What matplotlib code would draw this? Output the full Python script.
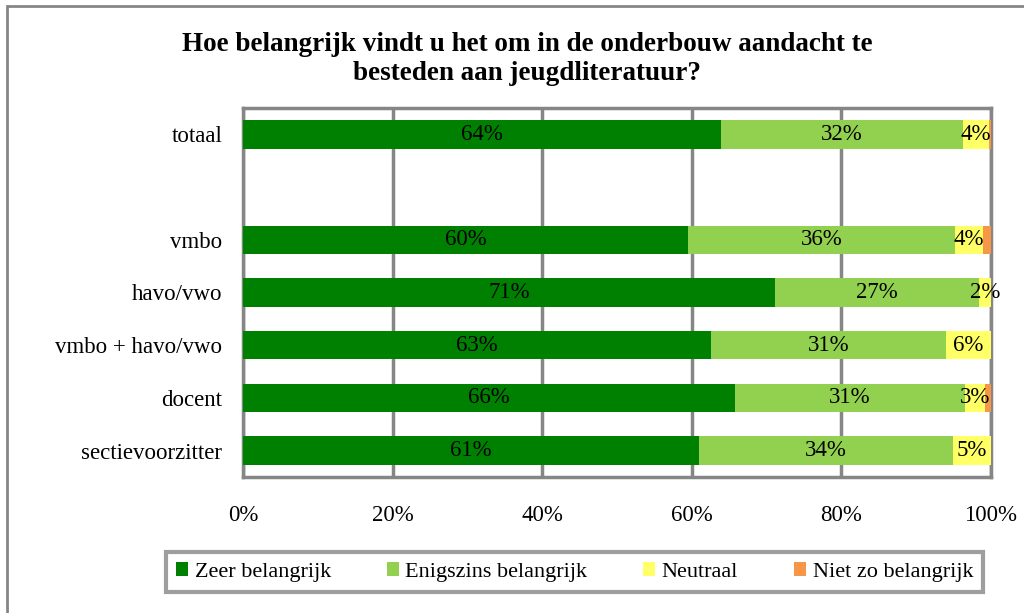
import numpy as np
import matplotlib.pyplot as plt
from matplotlib.patches import Rectangle

plt.rcParams['font.family'] = ['Liberation Serif', 'DejaVu Serif']

# ----------------------------
# Data
# ----------------------------

categories = ["totaal", "", "vmbo", "havo/vwo", "vmbo + havo/vwo",
              "docent", "sectievoorzitter"]

series_names = ["Zeer belangrijk", "Enigszins belangrijk",
                "Neutraal", "Niet zo belangrijk"]

zeer = [63.9, 0, 59.5, 71.1, 62.6, 65.8, 61.0]
enigszins = [32.3, 0, 35.7, 27.3, 31.4, 30.7, 33.9]
neutraal = [3.5, 0, 3.7, 1.6, 6.0, 2.7, 5.1]
niet_zo = [0.3, 0, 1.1, 0.0, 0.0, 0.8, 0.0]

colors = ["#008000", "#92D050", "#FFFF66", "#F79646"]
grid_gray = "#868686"

# ----------------------------
# Plot
# ----------------------------

fig = plt.figure(figsize=(10.24, 6.13), dpi=100)
ax = fig.add_axes([243 / 1024, 1 - 477 / 613, 748 / 1024, 369 / 613])

y = np.arange(len(categories))
left = np.zeros(len(categories))

for name, vals, col, show in zip(series_names,
                                 [zeer, enigszins, neutraal, niet_zo],
                                 colors, [True, True, True, False]):
    vals = np.array(vals)
    ax.barh(y, vals, left=left, height=0.54, color=col, label=name,
            zorder=3)
    if show:
        for yi, l, v in zip(y, left, vals):
            if v > 0:
                ax.text(l + v / 2, yi, f"{v:.0f}%", ha="center",
                        va="center", fontsize=16.5, zorder=4)
    left += vals

ax.set_ylim(len(categories) - 0.5, -0.5)
ax.set_xlim(0, 100)
ax.set_yticks(y)
ax.set_yticklabels(categories, fontsize=16.5)
ax.set_xticks(np.arange(0, 101, 20))
ax.set_xticklabels([f"{t}%" for t in range(0, 101, 20)], fontsize=16.5)
ax.tick_params(axis="both", length=0)
ax.tick_params(axis="y", pad=15)
ax.tick_params(axis="x", pad=20)

ax.grid(axis="x", color=grid_gray, linewidth=2.5, zorder=1)
for side in ["top", "bottom", "left", "right"]:
    ax.spines[side].set_color(grid_gray)
    ax.spines[side].set_linewidth(2.5)

fig.text(527 / 1024, 1 - 59 / 613,
         "Hoe belangrijk vindt u het om in de onderbouw aandacht te\n"
         "besteden aan jeugdliteratuur?",
         ha="center", va="center", fontsize=19.5, fontweight="bold",
         linespacing=1.25)

leg = fig.legend(loc="center", bbox_to_anchor=(574.5 / 1024, 1 - 572 / 613),
                 ncol=4, fontsize=16, frameon=True, fancybox=False,
                 handlelength=0.55, handleheight=0.55, handletextpad=0.3,
                 columnspacing=2.5, borderpad=0.45)
leg.get_frame().set_edgecolor(grid_gray)
leg.get_frame().set_linewidth(3)

# outer chart border
fig.patches.append(Rectangle((7 / 1024, -0.05), 1.1, 1 - 6 / 613 + 0.05,
                             transform=fig.transFigure, fill=False,
                             edgecolor=grid_gray, linewidth=2))

plt.savefig("out.png", dpi=100)
